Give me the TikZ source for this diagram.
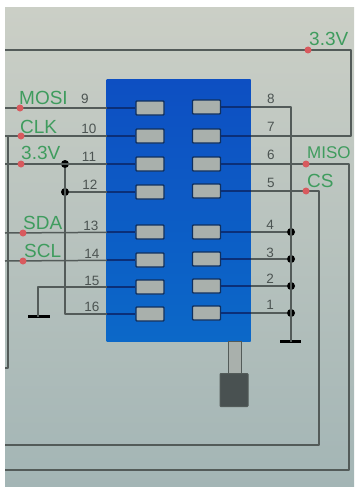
\documentclass[tikz,border=0pt]{standalone}
\usepackage{fontspec}
\setmainfont{Liberation Sans}
\definecolor{wirec}{HTML}{535B59}
\definecolor{bluew}{HTML}{0B2F78}
\definecolor{chiptop}{HTML}{0D4FC2}
\definecolor{chipbot}{HTML}{0C68C8}
\definecolor{padc}{HTML}{A9B0AC}
\definecolor{padl}{HTML}{10305F}
\definecolor{greenl}{HTML}{3F9C5E}
\definecolor{redd}{HTML}{D85A5E}
\definecolor{numc}{HTML}{4C5452}
\definecolor{bgtop}{HTML}{CBCFC6}
\definecolor{bgbot}{HTML}{A3B5B5}
\tikzset{
  wire/.style={draw=wirec,line width=1.5pt,line join=round},
  pad/.style={draw=padl,fill=padc,line width=1.4pt,minimum width=28pt,minimum height=14pt,inner sep=0pt,rounded corners=0.8pt,anchor=center},
  jn/.style={circle,fill=black,draw=none,minimum size=8pt,inner sep=0pt},
  rd/.style={circle,fill=redd,draw=none,minimum size=7pt,inner sep=0pt},
  lab/.style={text=greenl,font=\fontsize{19}{19}\selectfont,inner sep=0pt,anchor=west},
  num/.style={text=numc,font=\fontsize{13.5}{13.5}\selectfont,inner sep=0pt,anchor=center},
  gnd/.style={draw=black,line width=2.6pt},
}
\begin{document}
\begin{tikzpicture}[x=1pt,y=-1pt]
\useasboundingbox (0,0) rectangle (354,487);
% background
\fill[white] (0,0) rectangle (354,487);
\fill[top color=bgtop,bottom color=bgbot] (5,8) rectangle (354,487);
% free ends
\coordinate (e9) at (5,108);
\coordinate (e10) at (5,136);
\coordinate (e11) at (5,164);
\coordinate (e13) at (5,233);
\coordinate (e14) at (5,261);
\coordinate (eT) at (5,50);
\coordinate (eL) at (5,368);
\coordinate (e5) at (5,445);
\coordinate (e6) at (5,470);
\coordinate (cT) at (351,50);
\coordinate (cL) at (8,136);
% chip body
\node[top color=chiptop,bottom color=chipbot,draw=none,inner sep=0pt,minimum width=144pt,minimum height=262pt,anchor=north west] (chip) at (106.5,79) {};
\node[fill=padc,draw=wirec,line width=1pt,minimum width=13pt,minimum height=32pt,inner sep=0pt,anchor=north] (shaft) at (234.5,341) {};
\node[fill=black!55!bgbot,draw=wirec,line width=1pt,minimum width=28pt,minimum height=33pt,inner sep=0pt,rounded corners=.8pt,anchor=north] (knob) at (234,373) {};
% pads
\foreach \n/\y in {9/108,10/136,11/164,12/192,13/232,14/260,15/287,16/314}
  \node[pad] (p\n) at (150,\y) {};
\foreach \n/\y in {8/107,7/136,6/164,5/191,4/232,3/259,2/286,1/313}
  \node[pad] (p\n) at (206.5,\y) {};
% junctions and ground
\node[jn] (j11) at (65,164) {};
\node[jn] (j12) at (65,192) {};
\node[jn] (j4) at (291,232) {};
\node[jn] (j3) at (291,259) {};
\node[jn] (j2) at (291,286) {};
\node[jn] (j1) at (291,313) {};
\coordinate (g1) at (38,316.5);
\coordinate (g2) at (291,341.5);
\draw[gnd] (28,316.5) -- (50,316.5);
\draw[gnd] (280,341.5) -- (301,341.5);
% wires
\foreach \a/\b in {e9/p9,e10/p10,e11/p11,e13/p13,e14/p14,j12/p12,j4/p4,j3/p3,j2/p2,j1/p1}
  \draw[wire] (\a) -- (\b);
\draw[wire] (p15.west) -| (g1);
\draw[wire] (p16.west) -| (j11);
\draw[wire] (cL) -- (8,368) -- (eL);
\draw[wire] (eT) -- (cT) |- (p7.east);
\draw[wire] (p8.east) -| (g2);
\draw[wire] (p6.east) -| (349,470) -- (e6);
\draw[wire] (p5.east) -| (319,445) -- (e5);
% blue overlay of wires on the chip
\foreach \n in {9,10,11,12,13,14,15,16}
  \draw[bluew,line width=1.5pt] (p\n.west) -- (106.5,0|-p\n);
\foreach \n in {8,7,6,5,4,3,2,1}
  \draw[bluew,line width=1.5pt] (p\n.east) -- (250.5,0|-p\n);
% red dots
\foreach \x/\y in {20/108,21/136,21/164,23/233,23/261,308/50,306/164,306/191}
  \node[rd] at (\x,\y) {};
% labels
\node[lab] (lMOSI) at (19,98) {MOSI};
\node[lab] (lCLK) at (20,127) {CLK};
\node[lab] (l33a) at (21,153) {3.3V};
\node[lab] (lSDA) at (23,223) {SDA};
\node[lab] (lSCL) at (24,251) {SCL};
\node[lab] (l33b) at (309,39) {3.3V};
\node[lab,font=\fontsize{17}{17}\selectfont] (lMISO) at (307,153) {MISO};
\node[lab] (lCS) at (307,181) {CS};
% pin numbers
\node[num] at (85,99) {9};
\node[num] at (89,129) {10};
\node[num] at (89,157) {11};
\node[num] at (90,185) {12};
\node[num] at (91,226) {13};
\node[num] at (92,254) {14};
\node[num] at (92,281) {15};
\node[num] at (92,307) {16};
\node[num] at (271,99) {8};
\node[num] at (271,127) {7};
\node[num] at (271,155) {6};
\node[num] at (271,183) {5};
\node[num] at (270,225) {4};
\node[num] at (270,253) {3};
\node[num] at (270,279) {2};
\node[num] at (270,305) {1};
\end{tikzpicture}
\end{document}
